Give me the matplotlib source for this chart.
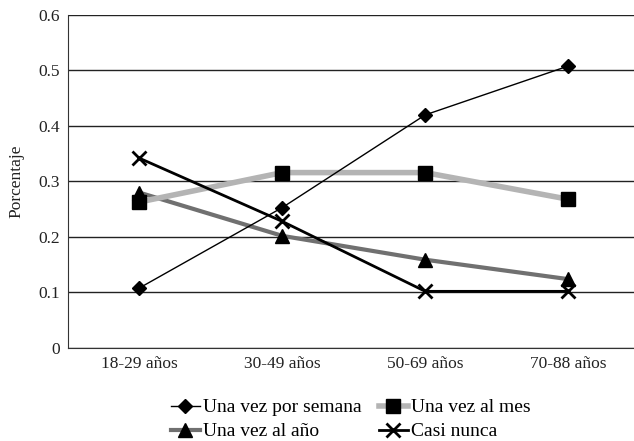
import matplotlib
matplotlib.use("Agg")
import matplotlib.pyplot as plt

categories = ["18-29 años", "30-49 años", "50-69 años", "70-88 años"]
semana = [0.108, 0.253, 0.420, 0.508]
mes = [0.263, 0.316, 0.316, 0.268]
anio = [0.280, 0.202, 0.159, 0.124]
nunca = [0.342, 0.228, 0.102, 0.102]
yticks = [0, 0.1, 0.2, 0.3, 0.4, 0.5, 0.6]
ytick_labels = ["0", "0.1", "0.2", "0.3", "0.4", "0.5", "0.6"]

plt.rcParams['font.family'] = ['Liberation Serif', 'DejaVu Serif']

fig = plt.figure(figsize=(6.34, 4.41), dpi=100)
ax = fig.add_axes([0.107, 0.211, 0.902, 0.755])

x = list(range(len(categories)))
l1, = ax.plot(x, semana, color='black', lw=1.0, marker='D', ms=7, mfc='black', mec='black', label='Una vez por semana', zorder=5)
l3, = ax.plot(x, anio, color='#707070', lw=3, marker='^', ms=10, mfc='black', mec='black', label='Una vez al año', zorder=3)
l2, = ax.plot(x, mes, color='#b4b4b4', lw=4, marker='s', ms=10, mfc='black', mec='black', label='Una vez al mes', zorder=4)
l4, = ax.plot(x, nunca, color='black', lw=2, marker='x', ms=10, mew=2, label='Casi nunca', zorder=6)

ax.set_xlim(-0.5, 3.5)
ax.set_ylim(0, 0.6)
ax.set_yticks(yticks)
ax.set_yticklabels(ytick_labels)
ax.set_xticks(x)
ax.set_xticklabels(categories)
ax.tick_params(length=0, labelsize=12.5, colors='#222222', pad=6)
ax.yaxis.grid(True, color='#222222', lw=1)
ax.set_axisbelow(True)
for s in ['top', 'right']:
    ax.spines[s].set_visible(False)
ax.spines['left'].set_color('#333333')
ax.spines['bottom'].set_color('#333333')
ax.set_ylabel('Porcentaje', fontsize=12.5, color='#222222', labelpad=10)

fig.legend([l1, l3, l2, l4], [h.get_label() for h in [l1, l3, l2, l4]],
           ncol=2, loc='upper center', bbox_to_anchor=(0.553, 0.122), frameon=False,
           fontsize=14, handlelength=1.5, handletextpad=0.15, columnspacing=0.9,
           labelspacing=0.32, borderpad=0.1)

fig.savefig('out.png', dpi=100)
